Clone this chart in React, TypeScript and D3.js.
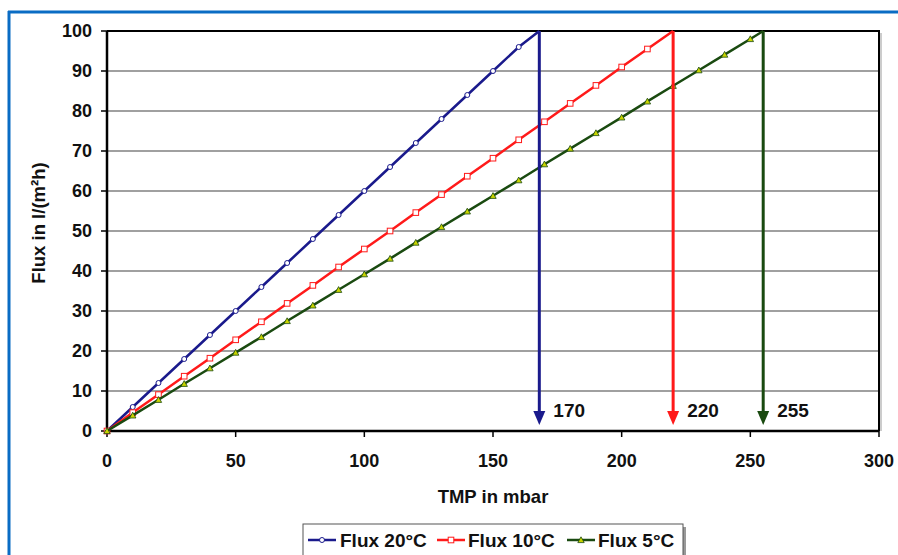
import React from "react";
import * as d3 from "d3";

const tmp20 = [0, 10, 20, 30, 40, 50, 60, 70, 80, 90, 100, 110, 120, 130, 140, 150, 160, 168];
const flux20 = [0, 6, 12, 18, 24, 30, 36, 42, 48, 54, 60, 66, 72, 78, 84, 90, 96, 100];
const tmp10 = [0, 10, 20, 30, 40, 50, 60, 70, 80, 90, 100, 110, 120, 130, 140, 150, 160, 170, 180, 190, 200, 210, 220];
const flux10 = [0, 4.6, 9.1, 13.7, 18.2, 22.8, 27.3, 31.9, 36.4, 41, 45.5, 50, 54.6, 59.1, 63.7, 68.2, 72.8, 77.3, 81.9, 86.4, 91, 95.5, 100];
const tmp5 = [0, 10, 20, 30, 40, 50, 60, 70, 80, 90, 100, 110, 120, 130, 140, 150, 160, 170, 180, 190, 200, 210, 220, 230, 240, 250, 255];
const flux5 = [0, 3.9, 7.8, 11.8, 15.7, 19.6, 23.5, 27.5, 31.4, 35.3, 39.2, 43.1, 47.1, 51, 54.9, 58.8, 62.7, 66.7, 70.6, 74.5, 78.4, 82.4, 86.3, 90.2, 94.1, 98, 100];
const arrowTmp = [168, 220, 255];
const arrowLabels = ["170", "220", "255"];
const seriesNames = ["Flux 20°C", "Flux 10°C", "Flux 5°C"];
const xTicks = [0, 50, 100, 150, 200, 250, 300];
const yTicks = [0, 10, 20, 30, 40, 50, 60, 70, 80, 90, 100];

const colors = ["#1a1a8c", "#ff1a1a", "#1a4a10"];

export default function App() {
  const W = 898, H = 555;
  const L = 107, R = 879, T = 31, B = 431;
  const x = d3.scaleLinear().domain([0, 300]).range([L, R]);
  const y = d3.scaleLinear().domain([0, 100]).range([B, T]);
  const font = "Arial, 'Liberation Sans', sans-serif";
  const series = [
    { xs: tmp20, ys: flux20, marker: "circle" },
    { xs: tmp10, ys: flux10, marker: "square" },
    { xs: tmp5, ys: flux5, marker: "triangle" },
  ];
  const line = d3.line<[number, number]>().x(d => x(d[0])).y(d => y(d[1]));

  const drawMarker = (type: string, cx: number, cy: number, c: string, key: string) => {
    if (type === "circle") return <circle key={key} cx={cx} cy={cy} r={2.5} fill="white" stroke={c} strokeWidth={1} />;
    if (type === "square") return <rect key={key} x={cx - 2.8} y={cy - 2.8} width={5.6} height={5.6} fill="white" stroke={c} strokeWidth={1} />;
    return <path key={key} d={`M${cx},${cy - 3.2}L${cx + 3.2},${cy + 2.6}L${cx - 3.2},${cy + 2.6}Z`} fill="#c8d400" stroke={c} strokeWidth={0.8} />;
  };

  const legendLineX = [308, 437, 567];
  const legendTextX = [340, 468, 598];

  return (
    <svg width={W} height={H} style={{ position: "absolute", left: 0, top: 0, background: "white" }} fontFamily={font}>
      <rect x={0} y={0} width={W} height={H} fill="white" />
      <line x1={8} y1={12} x2={W} y2={12} stroke="#0a6cc4" strokeWidth={3} />
      <line x1={9} y1={11} x2={9} y2={H} stroke="#0a6cc4" strokeWidth={3} />
      {yTicks.map(t => (
        <line key={"g" + t} x1={L} x2={R} y1={y(t)} y2={y(t)} stroke="#808080" strokeWidth={1.5} />
      ))}
      <line x1={L} x2={R + 1} y1={T} y2={T} stroke="#000" strokeWidth={2} />
      <line x1={R} x2={R} y1={T} y2={B} stroke="#000" strokeWidth={2} />
      <line x1={R + 2} x2={R + 2} y1={T + 2} y2={B} stroke="#bbb" strokeWidth={1.5} />
      <line x1={L} x2={L} y1={T} y2={B} stroke="#000" strokeWidth={2.5} />
      <line x1={L} x2={R} y1={B} y2={B} stroke="#000" strokeWidth={2.5} />
      {yTicks.map(t => (
        <g key={"yt" + t}>
          <line x1={L - 6} x2={L} y1={y(t)} y2={y(t)} stroke="#000" strokeWidth={1.5} />
          <text x={92} y={y(t)} dy="0.36em" textAnchor="end" fontSize={18} fontWeight="bold" fill="#111">{t}</text>
        </g>
      ))}
      {xTicks.map(t => (
        <g key={"xt" + t}>
          <line x1={x(t)} x2={x(t)} y1={B} y2={B + 6} stroke="#000" strokeWidth={1.5} />
          <text x={x(t)} y={467} textAnchor="middle" fontSize={18} fontWeight="bold" fill="#111">{t}</text>
        </g>
      ))}
      <text x={493} y={503} textAnchor="middle" fontSize={18.5} fontWeight="bold" fill="#111">TMP in mbar</text>
      <text transform={`translate(45,223) rotate(-90)`} textAnchor="middle" fontSize={18.5} fontWeight="bold" fill="#111">Flux in l/(m²h)</text>
      {series.map((s, i) => {
        const pts = s.xs.map((v, j) => [v, s.ys[j]] as [number, number]);
        return (
          <g key={"s" + i}>
            <path d={line(pts) || ""} fill="none" stroke={colors[i]} strokeWidth={2.5} />
            {pts.slice(0, -1).map((p, j) => drawMarker(s.marker, x(p[0]), y(p[1]), colors[i], `m${i}-${j}`))}
          </g>
        );
      })}
      {arrowTmp.map((a, i) => {
        const ax = x(a);
        return (
          <g key={"a" + i}>
            <line x1={ax} x2={ax} y1={y(100)} y2={B - 18} stroke={colors[i]} strokeWidth={3} />
            <path d={`M${ax - 6},${B - 20}L${ax + 6},${B - 20}L${ax},${B - 6}Z`} fill={colors[i]} />
            <text x={ax + 14} y={417} fontSize={19} fontWeight="bold" fill="#111">{arrowLabels[i]}</text>
          </g>
        );
      })}
      <rect x={306} y={527} width={380} height={32} fill="#999" />
      <rect x={303} y={524} width={380} height={32} fill="white" stroke="#555" strokeWidth={1} />
      {seriesNames.map((n, i) => {
        const lx = legendLineX[i];
        return (
          <g key={"l" + i}>
            <line x1={lx} x2={lx + 28} y1={540} y2={540} stroke={colors[i]} strokeWidth={2.5} />
            {drawMarker(series[i].marker, lx + 14, 540, colors[i], "lm" + i)}
            <text x={legendTextX[i]} y={547} fontSize={19} fontWeight="bold" fill="#111">{n}</text>
          </g>
        );
      })}
    </svg>
  );
}
